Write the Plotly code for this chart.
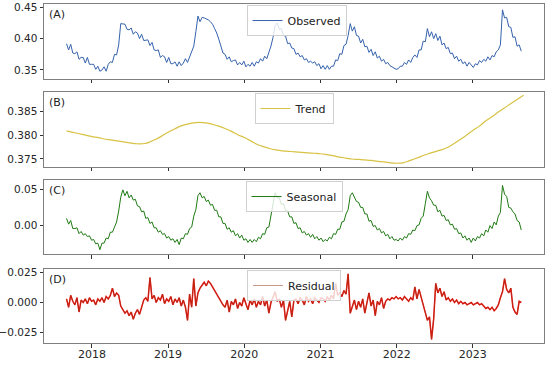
import pandas as pd
import plotly.graph_objects as go
from plotly.subplots import make_subplots

# ---- data ----
obs_start = "2017-09-01"   # 10-day sampling of the daily decomposition
observed = [
    0.392, 0.382, 0.391, 0.377, 0.376, 0.379, 0.367, 0.370, 0.370, 0.361,
    0.370, 0.359, 0.359, 0.359, 0.351, 0.356, 0.348, 0.350, 0.355, 0.348,
    0.359, 0.363, 0.362, 0.375, 0.374, 0.390, 0.424, 0.423, 0.423, 0.415,
    0.414, 0.417, 0.407, 0.411, 0.409, 0.400, 0.407, 0.397, 0.397, 0.398,
    0.389, 0.394, 0.382, 0.381, 0.382, 0.370, 0.373, 0.371, 0.362, 0.370,
    0.360, 0.360, 0.363, 0.356, 0.363, 0.357, 0.361, 0.368, 0.362, 0.371,
    0.378, 0.388, 0.411, 0.436, 0.427, 0.434, 0.433, 0.432, 0.430, 0.427,
    0.423, 0.416, 0.409, 0.399, 0.388, 0.377, 0.375, 0.367, 0.371, 0.363,
    0.365, 0.366, 0.358, 0.362, 0.358, 0.364, 0.355, 0.359, 0.356, 0.362,
    0.356, 0.363, 0.361, 0.368, 0.364, 0.372, 0.368, 0.378, 0.388, 0.402,
    0.421, 0.425, 0.415, 0.416, 0.405, 0.404, 0.392, 0.393, 0.385, 0.384,
    0.375, 0.377, 0.371, 0.373, 0.366, 0.368, 0.362, 0.364, 0.361, 0.363,
    0.357, 0.360, 0.352, 0.357, 0.351, 0.357, 0.351, 0.356, 0.356, 0.366,
    0.365, 0.376, 0.375, 0.389, 0.391, 0.405, 0.424, 0.412, 0.419, 0.405,
    0.404, 0.393, 0.399, 0.387, 0.388, 0.378, 0.383, 0.373, 0.379, 0.369,
    0.372, 0.364, 0.367, 0.360, 0.362, 0.357, 0.355, 0.353, 0.351, 0.352,
    0.356, 0.356, 0.362, 0.359, 0.366, 0.362, 0.370, 0.374, 0.370, 0.382,
    0.382, 0.396, 0.395, 0.416, 0.403, 0.411, 0.400, 0.408, 0.397, 0.404,
    0.390, 0.393, 0.384, 0.386, 0.376, 0.377, 0.368, 0.372, 0.364, 0.367,
    0.360, 0.363, 0.356, 0.362, 0.357, 0.354, 0.360, 0.358, 0.365, 0.362,
    0.367, 0.364, 0.371, 0.366, 0.373, 0.371, 0.379, 0.382, 0.390, 0.446,
    0.433, 0.434, 0.419, 0.418, 0.402, 0.403, 0.388, 0.390, 0.380,
]
seasonal = [
    0.010, 0.002, 0.007, -0.004, -0.004, -0.003, -0.011, -0.008, -0.013, -0.011,
    -0.015, -0.014, -0.020, -0.019, -0.025, -0.024, -0.033, -0.024, -0.024, -0.017,
    -0.018, -0.009, -0.009, -0.001, 0.005, 0.020, 0.039, 0.049, 0.041, 0.047,
    0.038, 0.042, 0.035, 0.036, 0.027, 0.026, 0.019, 0.020, 0.010, 0.011,
    0.003, 0.005, -0.003, -0.003, -0.009, -0.007, -0.012, -0.011, -0.017, -0.015,
    -0.020, -0.018, -0.023, -0.019, -0.026, -0.017, -0.018, -0.011, -0.012, -0.004,
    -0.002, 0.013, 0.022, 0.041, 0.045, 0.038, 0.040, 0.033, 0.035, 0.028,
    0.029, 0.021, 0.021, 0.012, 0.012, 0.003, 0.003, -0.005, -0.003, -0.009,
    -0.007, -0.014, -0.011, -0.017, -0.013, -0.020, -0.018, -0.023, -0.019, -0.023,
    -0.019, -0.022, -0.016, -0.018, -0.011, -0.012, -0.003, -0.002, 0.012, 0.028,
    0.045, 0.038, 0.038, 0.029, 0.030, 0.021, 0.020, 0.012, 0.012, 0.003,
    0.004, -0.004, -0.003, -0.010, -0.008, -0.013, -0.011, -0.016, -0.012, -0.018,
    -0.015, -0.020, -0.017, -0.022, -0.019, -0.021, -0.016, -0.018, -0.011, -0.012,
    -0.005, -0.005, 0.005, 0.006, 0.016, 0.022, 0.041, 0.045, 0.040, 0.033,
    0.032, 0.025, 0.025, 0.016, 0.016, 0.006, 0.007, -0.001, 0.000, -0.006,
    -0.004, -0.010, -0.008, -0.014, -0.012, -0.018, -0.015, -0.020, -0.019, -0.021,
    -0.017, -0.020, -0.015, -0.017, -0.011, -0.012, -0.006, -0.007, 0.000, 0.001,
    0.010, 0.013, 0.030, 0.047, 0.038, 0.034, 0.028, 0.028, 0.019, 0.021,
    0.013, 0.014, 0.007, 0.008, 0.001, 0.002, -0.005, -0.004, -0.011, -0.010,
    -0.017, -0.014, -0.020, -0.017, -0.023, -0.017, -0.021, -0.015, -0.017, -0.011,
    -0.014, -0.006, -0.009, 0.000, -0.004, 0.005, 0.001, 0.013, 0.018, 0.055,
    0.043, 0.040, 0.025, 0.024, 0.019, 0.016, 0.007, 0.005, -0.006,
]
residual = [
    0.003, -0.004, 0.006, 0.001, -0.002, 0.004, -0.008, 0.002, 0.000, 0.003,
    -0.001, 0.004, 0.001, 0.002, -0.002, 0.003, 0.001, 0.004, 0.000, 0.005,
    0.003, 0.006, 0.012, 0.005, 0.008, 0.006, -0.003, -0.006, -0.009, -0.007,
    -0.011, -0.008, -0.014, -0.009, -0.006, -0.010, -0.003, 0.002, 0.004, 0.001,
    0.021, 0.003, 0.006, 0.000, 0.004, 0.002, 0.007, -0.001, 0.003, 0.001,
    0.005, -0.002, 0.003, 0.000, 0.004, -0.003, 0.002, -0.004, -0.015, 0.007,
    -0.004, 0.020, -0.003, 0.008, 0.012, 0.015, 0.017, 0.014, 0.018, 0.016,
    0.013, 0.010, 0.007, 0.004, 0.000, -0.002, -0.004, 0.002, -0.008, 0.001,
    -0.002, 0.003, -0.005, 0.000, -0.003, 0.004, -0.001, -0.006, 0.002, -0.002,
    0.003, -0.004, 0.001, -0.002, 0.005, -0.003, 0.002, -0.009, 0.000, 0.004,
    0.009, 0.001, 0.003, -0.004, 0.002, -0.015, -0.006, 0.001, -0.012, 0.002,
    0.003, -0.001, 0.004, 0.002, -0.002, 0.005, 0.001, 0.003, -0.001, 0.004,
    0.002, 0.000, 0.004, 0.003, 0.001, 0.005, 0.002, 0.006, 0.003, 0.016,
    0.006, 0.008, 0.005, 0.010, 0.007, 0.024, -0.009, -0.003, 0.002, -0.006,
    0.001, -0.004, 0.003, -0.009, 0.000, 0.008, -0.003, 0.002, -0.011, 0.001,
    -0.002, 0.004, -0.005, 0.001, 0.003, 0.002, 0.004, 0.003, 0.005, 0.003,
    0.004, 0.002, 0.005, 0.003, 0.001, 0.004, 0.002, 0.013, 0.003, 0.011,
    0.004, -0.002, -0.010, -0.015, -0.012, -0.031, -0.014, 0.016, 0.008, 0.012,
    0.005, 0.009, 0.002, 0.004, 0.001, 0.003, 0.000, 0.002, -0.001, 0.001,
    -0.001, 0.000, -0.002, -0.001, 0.000, -0.002, -0.001, 0.000, -0.002, -0.001,
    -0.003, -0.005, -0.004, -0.006, -0.004, -0.007, -0.005, -0.002, 0.004, 0.009,
    0.020, 0.011, 0.008, 0.012, -0.004, -0.008, -0.010, 0.001, 0.000,
]
trend_start = "2017-09-01"   # monthly samples of the smooth trend
trend = [
    0.3809, 0.3806, 0.3803, 0.3800, 0.3797, 0.3795, 0.3792, 0.3790, 0.3788, 0.3786,
    0.3784, 0.3782, 0.3782, 0.3785, 0.3791, 0.3798, 0.3806, 0.3813, 0.3819, 0.3823,
    0.3826, 0.3827, 0.3826, 0.3823, 0.3819, 0.3814, 0.3808, 0.3801, 0.3795, 0.3788,
    0.3781, 0.3776, 0.3772, 0.3769, 0.3767, 0.3766, 0.3765, 0.3764, 0.3763, 0.3762,
    0.3761, 0.3759, 0.3757, 0.3754, 0.3752, 0.3750, 0.3749, 0.3748, 0.3747, 0.3745,
    0.3744, 0.3742, 0.3741, 0.3742, 0.3746, 0.3751, 0.3756, 0.3761, 0.3765, 0.3769,
    0.3774, 0.3782, 0.3791, 0.3800, 0.3810, 0.3819, 0.3829, 0.3838, 0.3848, 0.3857,
    0.3866, 0.3875, 0.3884,
]
panel_labels = ["(A)", "(B)", "(C)", "(D)"]
series_names = ["Observed", "Trend", "Seasonal", "Residual"]

dates = pd.date_range(obs_start, periods=len(observed), freq="10D")
tdates = pd.date_range(trend_start, periods=len(trend), freq="MS")

# ---- figure ----
doms = [(0.7788, 1.0), (0.5192, 0.7404), (0.2625, 0.4808), (0.0, 0.2183)]
fig = make_subplots(rows=4, cols=1, shared_xaxes=True, vertical_spacing=0.04)

C_OBS = "#3562ad"
C_TREND = "#d8c243"
C_SEAS = "#1f7a14"
C_RED = "#f01010"
C_BROWN = "#8e3a18"

fig.add_trace(go.Scatter(x=dates, y=observed, mode="lines", name=series_names[0],
                         line=dict(color=C_OBS, width=1.0), legend="legend"), 1, 1)
fig.add_trace(go.Scatter(x=tdates, y=trend, mode="lines", name=series_names[1],
                         line=dict(color=C_TREND, width=1.2, shape="spline"),
                         legend="legend2"), 2, 1)
fig.add_trace(go.Scatter(x=dates, y=seasonal, mode="lines", name=series_names[2],
                         line=dict(color=C_SEAS, width=1.0), legend="legend3"), 3, 1)
fig.add_trace(go.Scatter(x=dates, y=residual, mode="lines", name=series_names[3],
                         line=dict(color=C_RED, width=1.5), showlegend=False,
                         legend="legend4"), 4, 1)
fig.add_trace(go.Scatter(x=dates, y=residual, mode="lines", name=series_names[3],
                         line=dict(color=C_BROWN, width=0.6), opacity=0.85,
                         legend="legend4"), 4, 1)

axis_font = dict(family="DejaVu Sans", size=11, color="#262626")
yaxis_font = dict(family="DejaVu Sans", size=10.5, color="#262626")
yranges = [(0.3356, 0.4553), (0.37332, 0.38906), (-0.0389, 0.0625), (-0.034, 0.0281)]
ytickv = [[0.35, 0.40, 0.45], [0.375, 0.380, 0.385], [0.0, 0.05], [-0.025, 0.0, 0.025]]
yfmt = [".2f", ".3f", ".2f", ".3f"]

for k in range(4):
    yname = "yaxis" if k == 0 else f"yaxis{k+1}"
    xname = "xaxis" if k == 0 else f"xaxis{k+1}"
    fig.layout[yname].update(domain=list(doms[k]), range=list(yranges[k]),
                             tickvals=ytickv[k], tickformat=yfmt[k],
                             showgrid=False, zeroline=False, showline=True,
                             linecolor="#7f7f7f", linewidth=1, mirror=True,
                             ticks="outside", ticklen=3.5, tickcolor="#333333",
                             tickfont=yaxis_font, automargin=False)
    fig.layout[xname].update(range=["2017-05-16", "2023-12-08"],
                             tick0="2018-01-01", dtick="M12", tickformat="%Y",
                             showgrid=False, zeroline=False, showline=True,
                             linecolor="#7f7f7f", linewidth=1, mirror=True,
                             ticks="outside", ticklen=3.5, tickcolor="#333333",
                             tickfont=axis_font, showticklabels=(k == 3),
                             automargin=False)
    fig.add_annotation(text=panel_labels[k], xref="paper", yref="paper",
                       x=0.006, y=doms[k][1] - 0.006, xanchor="left", yanchor="top",
                       showarrow=False, font=dict(family="DejaVu Sans", size=11, color="#222222"))

fig.layout["xaxis4"].update(ticklabelstandoff=-3)

leg_common = dict(bgcolor="rgba(255,255,255,0.8)", bordercolor="#d0d0d0", borderwidth=1,
                  font=dict(family="DejaVu Sans", size=11, color="#222222"),
                  xanchor="center", yanchor="top", itemwidth=30,
                  tracegroupgap=0)
fig.update_layout(
    width=550, height=365,
    margin=dict(l=44, r=6, t=4, b=22, autoexpand=False),
    paper_bgcolor="white", plot_bgcolor="white",
    showlegend=True,
    legend=dict(x=0.505, y=doms[0][1] - 0.003, **leg_common),
    legend2=dict(x=0.5, y=doms[1][1] - 0.003, **leg_common),
    legend3=dict(x=0.5, y=doms[2][1] - 0.003, **leg_common),
    legend4=dict(x=0.5, y=doms[3][1] - 0.003, **leg_common),
)

fig.write_html("out.html", config={"displayModeBar": False},
               post_script="document.body.style.margin='0px';document.body.style.overflow='hidden';")
